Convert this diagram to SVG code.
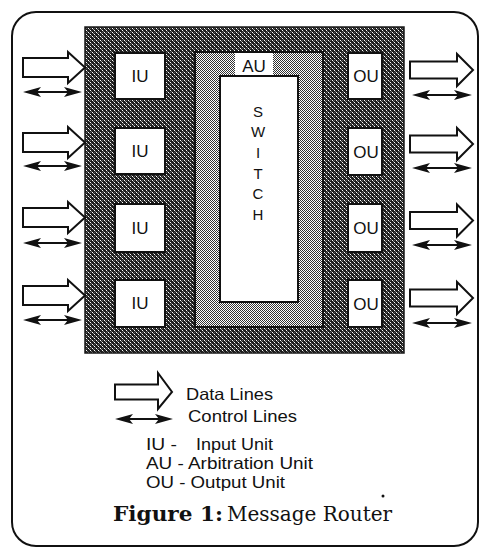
<svg xmlns="http://www.w3.org/2000/svg" width="480" height="548" viewBox="0 0 480 548">
<style>
.frame{fill:#fff;stroke:#111;stroke-width:2}
.box{fill:#fff;stroke:#111;stroke-width:2}
.lbl{font-family:"Liberation Sans",Arial,sans-serif;font-size:17px;fill:#111;text-anchor:middle}
.sw{font-family:"Liberation Sans",Arial,sans-serif;font-size:15px;fill:#111;text-anchor:middle}
.leg{font-family:"Liberation Sans",Arial,sans-serif;font-size:16.5px;fill:#111}
.cap{font-family:"DejaVu Serif","Liberation Serif",serif;font-size:20px;fill:#111}
.data{fill:#fff;stroke:#111;stroke-width:2;stroke-linejoin:miter}
.ctl{fill:none;stroke:#111;stroke-width:2}
.head{fill:#111}
</style>
<defs>
<pattern id="dark" width="4" height="4" patternUnits="userSpaceOnUse">
<rect width="4" height="4" fill="#1e1e1e"/>
<rect x="0" y="0" width="1" height="1" fill="#fff"/>
<rect x="1" y="1" width="1" height="1" fill="#999"/>
<rect x="2" y="2" width="1" height="1" fill="#fff"/>
<rect x="3" y="3" width="1" height="1" fill="#777"/>
<rect x="2" y="0" width="1" height="1" fill="#555"/>
</pattern>
<pattern id="light" width="2" height="2" patternUnits="userSpaceOnUse">
<rect width="2" height="2" fill="#fff"/>
<rect x="0" y="0" width="1" height="1" fill="#333"/>
<rect x="1" y="1" width="1" height="1" fill="#333"/>
</pattern>
<polygon id="dataL" class="data" points="23,-9.5 68,-9.5 68,-15.5 85,0 68,15.5 68,9.5 23,9.5"/>
<polygon id="dataR" class="data" points="410,-8.5 457,-8.5 457,-16 473,0 457,16 457,8.5 410,8.5"/>
<g id="ctlL">
<line class="ctl" x1="35" y1="0" x2="70" y2="0"/>
<path class="head" d="M23,0 L41,-5 L37,0 L41,5 Z"/>
<path class="head" d="M82,0 L64,-5 L68,0 L64,5 Z"/>
</g>
<g id="ctlR">
<line class="ctl" x1="424" y1="0" x2="460" y2="0"/>
<path class="head" d="M412,0 L430,-5 L426,0 L430,5 Z"/>
<path class="head" d="M472,0 L454,-5 L458,0 L454,5 Z"/>
</g>
</defs>

<rect id="frame" class="frame" x="12" y="12" width="466" height="534" rx="24" ry="24"/>

<g id="router">
<rect x="85" y="27" width="319" height="326" fill="url(#dark)" stroke="#1a1a1a" stroke-width="1.5"/>
</g>

<g id="au-area">
<rect x="195" y="52" width="128" height="275" fill="url(#light)" stroke="#111" stroke-width="2"/>
</g>

<g id="au">
<rect x="235" y="53" width="38" height="22" fill="#fff"/>
<text class="lbl" x="254" y="72">AU</text>
</g>

<g id="switch">
<rect class="box" x="220" y="76" width="78" height="226"/>
<text class="sw" x="258" y="117">S</text>
<text class="sw" x="258" y="137">W</text>
<text class="sw" x="258" y="158">I</text>
<text class="sw" x="258" y="179">T</text>
<text class="sw" x="258" y="199">C</text>
<text class="sw" x="258" y="220">H</text>
</g>

<g id="iu1"><rect class="box" x="115" y="53" width="50" height="46"/><text class="lbl" x="140" y="82">IU</text></g>
<g id="iu2"><rect class="box" x="115" y="128" width="50" height="46"/><text class="lbl" x="140" y="157">IU</text></g>
<g id="iu3"><rect class="box" x="115" y="204" width="50" height="48"/><text class="lbl" x="140" y="234">IU</text></g>
<g id="iu4"><rect class="box" x="115" y="280" width="50" height="47"/><text class="lbl" x="140" y="309">IU</text></g>

<g id="ou1"><rect class="box" x="348" y="53" width="34" height="46"/><text class="lbl" x="366" y="82">OU</text></g>
<g id="ou2"><rect class="box" x="348" y="128" width="34" height="47"/><text class="lbl" x="366" y="158">OU</text></g>
<g id="ou3"><rect class="box" x="348" y="204" width="34" height="48"/><text class="lbl" x="366" y="234">OU</text></g>
<g id="ou4"><rect class="box" x="348" y="280" width="34" height="47"/><text class="lbl" x="366" y="310">OU</text></g>

<g id="connectors">
<use href="#dataL" y="67.5"/>
<use href="#dataL" y="142.5"/>
<use href="#dataL" y="217.5"/>
<use href="#dataL" y="295.5"/>
<use href="#ctlL" y="92"/>
<use href="#ctlL" y="166"/>
<use href="#ctlL" y="243"/>
<use href="#ctlL" y="320"/>
<use href="#dataR" y="70"/>
<use href="#dataR" y="144"/>
<use href="#dataR" y="220.5"/>
<use href="#dataR" y="298"/>
<use href="#ctlR" y="95"/>
<use href="#ctlR" y="168"/>
<use href="#ctlR" y="245"/>
<use href="#ctlR" y="323"/>
</g>

<g id="legend">
<polygon class="data" points="115,384.5 158,384.5 158,373 172,392 158,409 158,399.5 115,399.5"/>
<line class="ctl" x1="127" y1="419" x2="161" y2="419"/>
<path class="head" d="M115,419 L133,414 L129,419 L133,424 Z"/>
<path class="head" d="M173,419 L155,414 L159,419 L155,424 Z"/>
<text class="leg" x="186" y="400" textLength="87" lengthAdjust="spacingAndGlyphs">Data Lines</text>
<text class="leg" x="188" y="422" textLength="109" lengthAdjust="spacingAndGlyphs">Control Lines</text>
<text class="leg" x="146" y="450" textLength="31" lengthAdjust="spacingAndGlyphs">IU -</text>
<text class="leg" x="196" y="450" textLength="77" lengthAdjust="spacingAndGlyphs">Input Unit</text>
<text class="leg" x="146" y="469" textLength="167" lengthAdjust="spacingAndGlyphs">AU - Arbitration Unit</text>
<text class="leg" x="146" y="488" textLength="139" lengthAdjust="spacingAndGlyphs">OU - Output Unit</text>
<circle cx="383" cy="496" r="1.5" fill="#111"/>
<text class="cap" x="113" y="521"><tspan font-weight="bold" textLength="110" lengthAdjust="spacingAndGlyphs">Figure 1:</tspan><tspan x="227">Message Router</tspan></text>
</g>
</svg>
